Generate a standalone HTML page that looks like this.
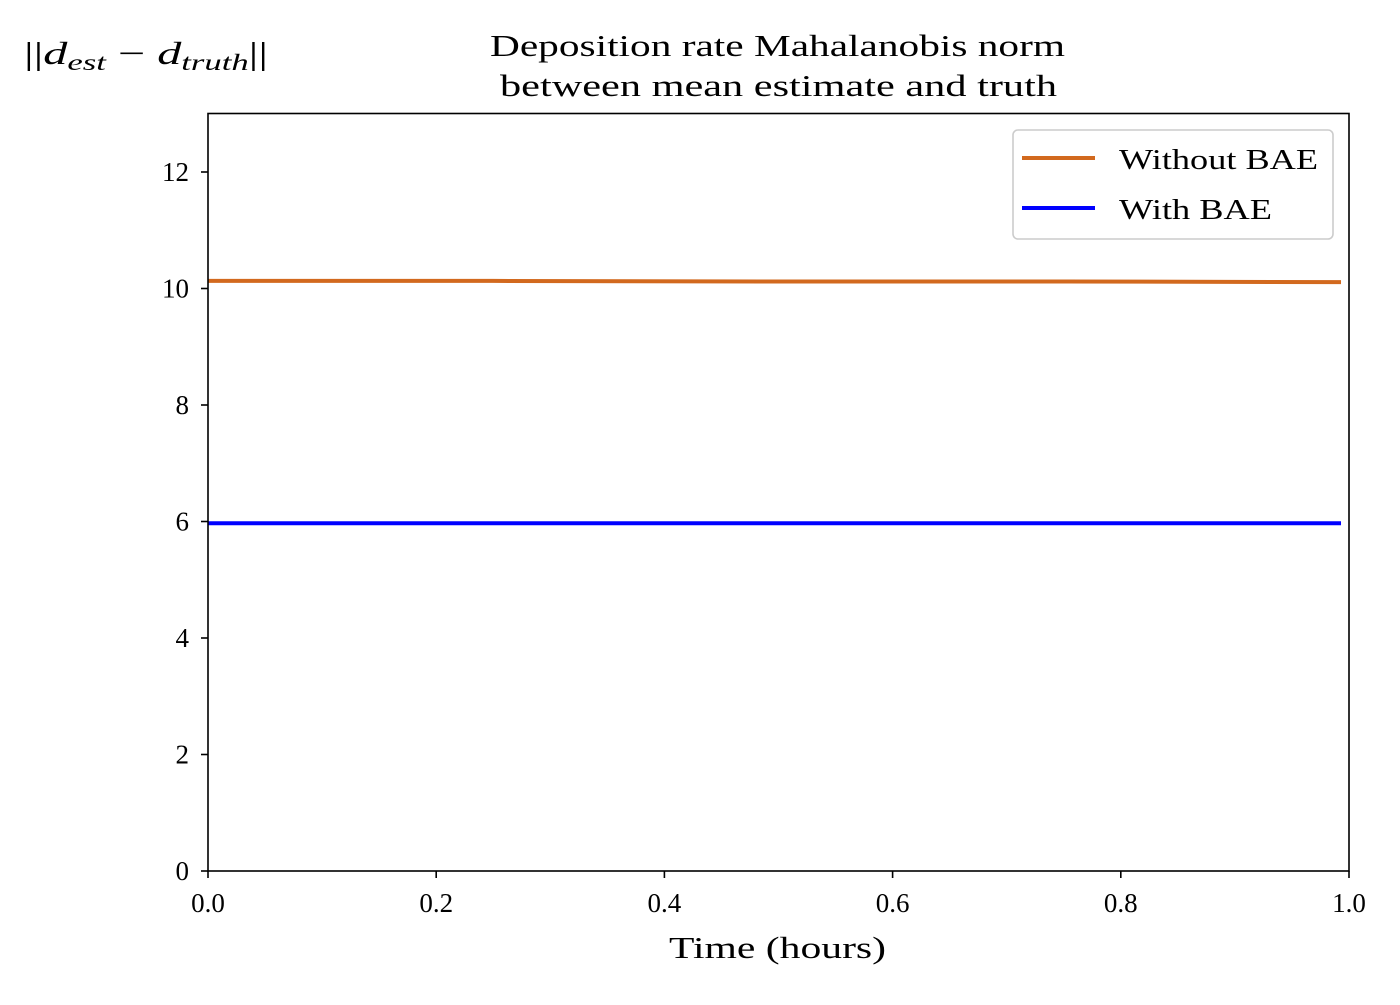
<!DOCTYPE html>
<html><head><meta charset="utf-8"><style>
body{margin:0;background:#fff;width:1400px;height:1000px;overflow:hidden}
svg text{font-family:"Liberation Serif",serif;fill:#000}
</style></head><body>
<svg id="chart" width="1400" height="1000">
<text x="490" y="56" font-size="31" textLength="575" lengthAdjust="spacingAndGlyphs">Deposition rate Mahalanobis norm</text>
<text x="500" y="96" font-size="31" textLength="557" lengthAdjust="spacingAndGlyphs">between mean estimate and truth</text>
<text x="24" y="64" font-size="32" textLength="244" lengthAdjust="spacingAndGlyphs">||<tspan font-style="italic">d</tspan><tspan font-style="italic" font-size="23" dy="6">est</tspan><tspan dy="-6"> − </tspan><tspan font-style="italic">d</tspan><tspan font-style="italic" font-size="23" dy="6">truth</tspan><tspan dy="-6">||</tspan></text>
<text x="669" y="958" font-size="31" textLength="217" lengthAdjust="spacingAndGlyphs">Time (hours)</text>
<g id="xticks"></g><g id="yticks"></g><g id="series"></g>
<rect x="208" y="113.5" width="1141" height="757.5" fill="none" stroke="#000" stroke-width="1.6"/>
<g>
<rect x="1013" y="130" width="320" height="109" rx="5" fill="#fff" stroke="#ccc" stroke-width="1.6"/>
<line x1="1022" y1="158" x2="1095" y2="158" stroke="#d2691e" stroke-width="4"/>
<text x="1119" y="169" font-size="29" textLength="199" lengthAdjust="spacingAndGlyphs">Without BAE</text>
<line x1="1022" y1="208" x2="1095" y2="208" stroke="#0000ff" stroke-width="4"/>
<text x="1119" y="219" font-size="29" textLength="153" lengthAdjust="spacingAndGlyphs">With BAE</text>
</g>
</svg>
<script>
const times=[0,0.25,0.5,0.75,0.993];
const withoutBAE=[10.13,10.13,10.12,10.12,10.11];
const withBAE=[5.97,5.97,5.97,5.97,5.97];
const xTickLabels=["0.0","0.2","0.4","0.6","0.8","1.0"];
const xTickValues=[0,0.2,0.4,0.6,0.8,1.0];
const yTickValues=[0,2,4,6,8,10,12];
const NS="http://www.w3.org/2000/svg";
const X=v=>208+v*1141, Y=v=>871-v*(871-172)/12;
function mk(t,a,p){const e=document.createElementNS(NS,t);for(const k in a)e.setAttribute(k,a[k]);p.appendChild(e);return e;}
const xg=document.getElementById('xticks'),yg=document.getElementById('yticks'),sg=document.getElementById('series');
xTickValues.forEach((v,i)=>{
 const l=mk('line',{x1:X(v),x2:X(v),y1:871,y2:878,stroke:'#000','stroke-width':1.6},xg);
 
 
 const t=mk('text',{x:X(v),y:912,'font-size':27,'text-anchor':'middle'},xg);t.textContent=xTickLabels[i];
 
 
});
yTickValues.forEach(v=>{
 const l=mk('line',{x1:201,x2:208,y1:Y(v),y2:Y(v),stroke:'#000','stroke-width':1.6},yg);
 
 
 const t=mk('text',{x:189,y:Y(v)+9,'font-size':27,'text-anchor':'end'},yg);t.textContent=v;
 
 
});
function line(vals,color,name){
 const p=mk('polyline',{points:times.map((t,i)=>X(t)+','+Y(vals[i])).join(' '),fill:'none',stroke:color,'stroke-width':4},sg);
 
 
}
line(withoutBAE,'#d2691e','line-without-bae');
line(withBAE,'#0000ff','line-with-bae');
</script>
</body></html>
